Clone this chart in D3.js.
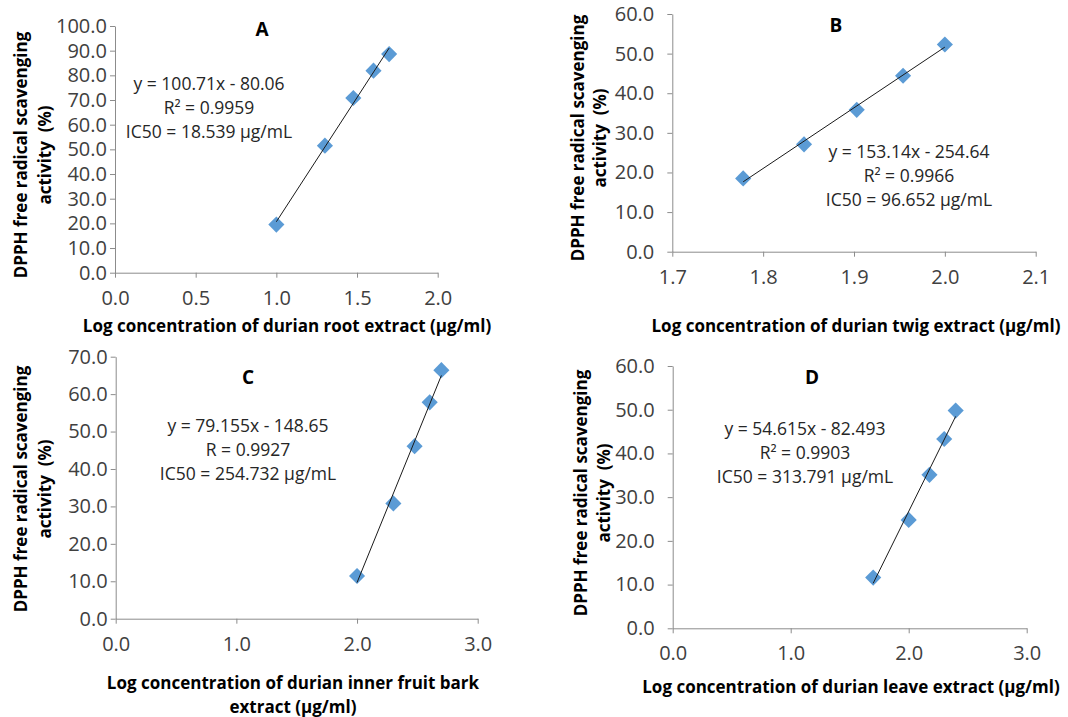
<!DOCTYPE html>
<meta charset="utf-8">
<style>
    body { margin: 0; background: #fff; }
    svg text { font-family: "Open Sans", sans-serif; }
    .axis path, .axis line { stroke: #8c8c8c; }
    .lbl { font-weight: bold; font-size: 17px; fill: #000; }
    .ttl { font-weight: bold; font-size: 19px; fill: #000; }
    .eq { font-size: 17.5px; fill: #262626; }
</style>
<body>
<script src="https://cdn.jsdelivr.net/npm/d3@7"></script>
<script>

    var width = 1068;
    var height = 717;

    // log10 concentrations and % scavenging
    var xA = [1.000, 1.301, 1.477, 1.602, 1.699];
    var yA = [19.5, 51.5, 70.8, 81.9, 88.6];
    var xB = [1.778, 1.845, 1.903, 1.954, 2.000];
    var yB = [18.5, 27.1, 35.8, 44.4, 52.3];
    var xC = [2.000, 2.301, 2.477, 2.602, 2.699];
    var yC = [11.4, 30.8, 46.1, 57.8, 66.4];
    var xD = [1.699, 2.000, 2.176, 2.301, 2.398];
    var yD = [11.6, 24.8, 35.1, 43.3, 49.8];

    // regression: slope, intercept
    var fitA = [100.71, -80.06];
    var fitB = [153.14, -254.64];
    var fitC = [79.155, -148.65];
    var fitD = [54.615, -82.493];

    var eqA = ["y = 100.71x - 80.06", "R² = 0.9959", "IC50 = 18.539 µg/mL"];
    var eqB = ["y = 153.14x - 254.64", "R² = 0.9966", "IC50 = 96.652 µg/mL"];
    var eqC = ["y = 79.155x - 148.65", "R = 0.9927", "IC50 = 254.732 µg/mL"];
    var eqD = ["y = 54.615x - 82.493", "R² = 0.9903", "IC50 = 313.791 µg/mL"];

    var xTicksA = [0, 0.5, 1.0, 1.5, 2.0];
    var xTicksB = [1.7, 1.8, 1.9, 2.0, 2.1];
    var xTicksCD = [0, 1, 2, 3];
    var yTicksA = [0, 10, 20, 30, 40, 50, 60, 70, 80, 90, 100];
    var yTicksB = [0, 10, 20, 30, 40, 50, 60];
    var yTicksC = [0, 10, 20, 30, 40, 50, 60, 70];
    var yTicksD = [0, 10, 20, 30, 40, 50, 60];

    var yLabel = ["DPPH free radical scavenging", "activity  (%)"];
    var xLabelA = ["Log concentration of durian root extract (µg/ml)"];
    var xLabelB = ["Log concentration of durian twig extract (µg/ml)"];
    var xLabelC = ["Log concentration of durian inner fruit bark", "extract (µg/ml)"];
    var xLabelD = ["Log concentration of durian leave extract (µg/ml)"];

    var panels = [
        { title: "A", xs: xA, ys: yA, fit: fitA, eq: eqA, xTicks: xTicksA, yTicks: yTicksA, xLab: xLabelA,
          l: 115, r: 437.7, t: 26, b: 272.7, yPad: 3,
          titleX: 262, titleY: 29, eqX: 209, eqY: 84,
          yLabX: [21, 45], yLabY: 155, xLabX: 287, xLabY: 326 },
        { title: "B", xs: xB, ys: yB, fit: fitB, eq: eqB, xTicks: xTicksB, yTicks: yTicksB, xLab: xLabelB,
          l: 672.3, r: 1035.7, t: 14, b: 251.7, yPad: 13,
          titleX: 836, titleY: 25, eqX: 909, eqY: 152,
          yLabX: [578, 600], yLabY: 138, xLabX: 856, xLabY: 326 },
        { title: "C", xs: xC, ys: yC, fit: fitC, eq: eqC, xTicks: xTicksCD, yTicks: yTicksC, xLab: xLabelC,
          l: 115.7, r: 477.7, t: 356.7, b: 618.7, yPad: 3,
          titleX: 248, titleY: 377, eqX: 248, eqY: 426,
          yLabX: [21, 45], yLabY: 489, xLabX: 293, xLabY: 683 },
        { title: "D", xs: xD, ys: yD, fit: fitD, eq: eqD, xTicks: xTicksCD, yTicks: yTicksD, xLab: xLabelD,
          l: 672.7, r: 1026.7, t: 366, b: 628.3, yPad: 13,
          titleX: 812, titleY: 377, eqX: 805, eqY: 429,
          yLabX: [581, 604], yLabY: 493, xLabX: 851, xLabY: 687 }
    ];

    var svg = d3.select("body").append("svg")
        .attr("width", width)
        .attr("height", height);

    var diamond = d3.symbol().type(d3.symbolSquare).size(130);

    panels.forEach(function (p) {
        var x = d3.scaleLinear()
            .domain([p.xTicks[0], p.xTicks[p.xTicks.length - 1]])
            .range([p.l, p.r]);
        var y = d3.scaleLinear()
            .domain([0, p.yTicks[p.yTicks.length - 1]])
            .range([p.b, p.t]);

        var g = svg.append("g");

        // axes
        g.append("g")
            .attr("class", "axis")
            .attr("transform", "translate(" + p.l + ",0)")
            .call(d3.axisLeft(y).tickValues(p.yTicks).tickSize(5).tickSizeOuter(0)
                .tickPadding(p.yPad).tickFormat(d3.format(".1f")));
        var gx = g.append("g")
            .attr("class", "axis")
            .attr("transform", "translate(0," + p.b + ")")
            .call(d3.axisBottom(x).tickValues(p.xTicks).tickSize(5).tickSizeOuter(0)
                .tickFormat(d3.format(".1f")));
        gx.selectAll(".tick text").attr("y", 25).attr("dy", "0.35em");
        g.selectAll(".axis").attr("font-family", null).attr("font-size", null);
        g.selectAll(".axis text")
            .attr("fill", null)
            .style("font-size", "20px")
            .style("fill", "#404040");

        // markers
        var pts = p.xs.map(function (v, i) { return [v, p.ys[i]]; });
        g.selectAll("path.pt")
            .data(pts)
            .enter()
            .append("path")
            .attr("class", "pt")
            .attr("d", diamond)
            .attr("transform", function (d) {
                return "translate(" + x(d[0]) + "," + y(d[1]) + ") rotate(45)";
            })
            .style("fill", "#5b9bd5");

        // trend line
        var x0 = p.xs[0], x1 = p.xs[p.xs.length - 1];
        g.append("line")
            .attr("x1", x(x0)).attr("y1", y(p.fit[0] * x0 + p.fit[1]))
            .attr("x2", x(x1)).attr("y2", y(p.fit[0] * x1 + p.fit[1]))
            .style("stroke", "#1a1a1a")
            .style("stroke-width", 1);

        // title
        g.append("text").attr("class", "ttl")
            .attr("x", p.titleX).attr("y", p.titleY)
            .attr("dy", "0.35em")
            .attr("text-anchor", "middle")
            .text(p.title);

        // equation block
        p.eq.forEach(function (s, i) {
            g.append("text").attr("class", "eq")
                .attr("x", p.eqX).attr("y", p.eqY + i * 24)
                .attr("dy", "0.35em")
                .attr("text-anchor", "middle")
                .text(s);
        });

        // y label
        yLabel.forEach(function (s, i) {
            g.append("text").attr("class", "lbl")
                .attr("transform", "translate(" + p.yLabX[i] + "," + p.yLabY + ") rotate(-90)")
                .attr("dy", "0.35em")
                .attr("text-anchor", "middle")
                .style("white-space", "pre")
                .text(s);
        });

        // x label
        p.xLab.forEach(function (s, i) {
            g.append("text").attr("class", "lbl")
                .attr("x", p.xLabX).attr("y", p.xLabY + i * 24)
                .attr("dy", "0.35em")
                .attr("text-anchor", "middle")
                .text(s);
        });
    });

</script>
</body>
</html>
